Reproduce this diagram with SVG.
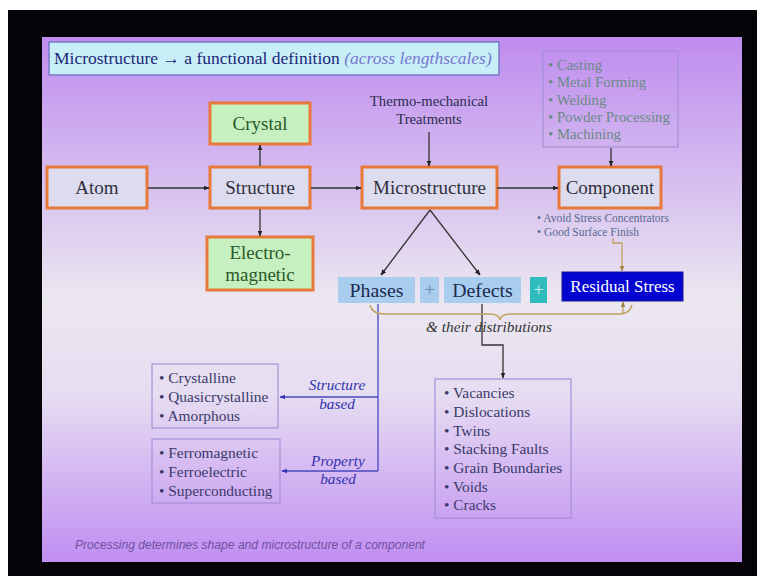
<svg xmlns="http://www.w3.org/2000/svg" width="764" height="579" viewBox="0 0 764 579">
<defs>
<linearGradient id="bg" x1="0" y1="0" x2="0" y2="1">
<stop offset="0" stop-color="#bf8cef"/>
<stop offset="0.3" stop-color="#d8c3ef"/>
<stop offset="0.5" stop-color="#ebe7f0"/>
<stop offset="0.68" stop-color="#e6ddf1"/>
<stop offset="1" stop-color="#c08ef2"/>
</linearGradient>
<marker id="ah" viewBox="0 0 10 10" refX="9" refY="5" markerWidth="6" markerHeight="6" orient="auto" markerUnits="userSpaceOnUse"><path d="M0,1 L10,5 L0,9 z" fill="#222"/></marker>
<marker id="ahb" viewBox="0 0 10 10" refX="9" refY="5" markerWidth="6" markerHeight="6" orient="auto" markerUnits="userSpaceOnUse"><path d="M0,1 L10,5 L0,9 z" fill="#3030b0"/></marker>
<marker id="aht" viewBox="0 0 10 10" refX="9" refY="5" markerWidth="6" markerHeight="6" orient="auto" markerUnits="userSpaceOnUse"><path d="M0,1 L10,5 L0,9 z" fill="#a08040"/></marker>
<style>
.node{fill:#dcdcee;stroke:#e8793a;stroke-width:3}
.green{fill:#c6f0c0;stroke:#e8793a;stroke-width:3}
.nt{font-family:"Liberation Serif",serif;font-size:19px;fill:#30303e;text-anchor:middle}
.gt{font-family:"Liberation Serif",serif;font-size:19px;fill:#2a5a2a;text-anchor:middle}
.list{fill:none;stroke:#a590d8;stroke-width:1.2}
.li{font-family:"Liberation Serif",serif;font-size:15.4px;fill:#3a3a6a}
.pl{font-family:"Liberation Serif",serif;font-size:14.8px;fill:#6a8a88}
.c{fill:none;stroke:#333;stroke-width:1.3}
.cb{fill:none;stroke:#4848c0;stroke-width:1.3}
.ct{fill:none;stroke:#c0a060;stroke-width:1.3}
.lab{font-family:"Liberation Serif",serif;font-size:15.3px;font-style:italic;fill:#3030b0;text-anchor:middle}
.pd{fill:#a8cdef}
.pdt{font-family:"Liberation Serif",serif;font-size:19.8px;fill:#202a50;text-anchor:middle}
</style>
</defs>
<rect x="0" y="0" width="764" height="579" fill="#ffffff"/>
<rect x="8" y="10" width="749" height="566" fill="#050308"/>
<rect x="42" y="37" width="700" height="525" fill="url(#bg)"/>

<g id="title">
<rect x="49" y="42" width="450" height="33" fill="#c8eef8" stroke="#7878c8" stroke-width="1.5"/>
<text x="54" y="64" font-family="Liberation Serif,serif" font-size="17.5px" fill="#1c2878">Microstructure → a functional definition <tspan font-style="italic" fill="#7878d0">(across lengthscales)</tspan></text>
</g>

<g id="processes">
<rect x="543" y="51" width="135" height="96" class="list"/>
<text class="pl" x="548" y="70">• Casting</text>
<text class="pl" x="548" y="87">• Metal Forming</text>
<text class="pl" x="548" y="105">• Welding</text>
<text class="pl" x="548" y="122">• Powder Processing</text>
<text class="pl" x="548" y="139">• Machining</text>
</g>

<g id="thermo">
<text x="429" y="106" font-family="Liberation Serif,serif" font-size="14.7px" fill="#2c2c50" text-anchor="middle">Thermo-mechanical</text>
<text x="429" y="124" font-family="Liberation Serif,serif" font-size="14.7px" fill="#2c2c50" text-anchor="middle">Treatments</text>
</g>

<g id="atom"><rect x="47" y="167" width="100" height="41" class="node"/><text class="nt" x="97" y="194">Atom</text></g>
<g id="structure"><rect x="210" y="167" width="100" height="41" class="node"/><text class="nt" x="260" y="194">Structure</text></g>
<g id="crystal"><rect x="210" y="103" width="100" height="41" class="green"/><text class="gt" x="260" y="130">Crystal</text></g>
<g id="electromagnetic"><rect x="207" y="237" width="106" height="53" class="green"/><text class="gt" x="260" y="259">Electro-</text><text class="gt" x="260" y="281">magnetic</text></g>
<g id="microstructure"><rect x="362" y="167" width="135" height="41" class="node"/><text class="nt" x="429.5" y="194">Microstructure</text></g>
<g id="component"><rect x="559" y="167" width="102" height="41" class="node"/><text class="nt" x="610" y="194">Component</text></g>

<g id="component-notes">
<text x="537" y="222" font-family="Liberation Serif,serif" font-size="11.5px" fill="#5a6a90">• Avoid Stress Concentrators</text>
<text x="537" y="236" font-family="Liberation Serif,serif" font-size="11.5px" fill="#5a6a90">• Good Surface Finish</text>
</g>

<g id="phases"><rect x="338" y="277" width="77" height="26" class="pd"/><text class="pdt" x="376.5" y="297">Phases</text></g>
<g id="plus1"><rect x="420" y="277" width="19" height="26" class="pd"/><text x="429.5" y="296" font-family="Liberation Serif,serif" font-size="18px" fill="#6a8ab0" text-anchor="middle">+</text></g>
<g id="defects"><rect x="444" y="277" width="77" height="26" class="pd"/><text class="pdt" x="482.5" y="297">Defects</text></g>
<g id="plus2"><rect x="530" y="277" width="17" height="26" fill="#2ebcbc"/><text x="538.5" y="296" font-family="Liberation Serif,serif" font-size="18px" fill="#c8f0e8" text-anchor="middle">+</text></g>
<g id="residual"><rect x="562" y="272" width="121" height="29" fill="#0505d2" stroke="#1a1a90" stroke-width="1"/><text x="622.5" y="292" font-family="Liberation Serif,serif" font-size="17px" fill="#ffffff" text-anchor="middle">Residual Stress</text></g>

<g id="distributions"><text x="489" y="332" font-family="Liberation Serif,serif" font-size="15.3px" font-style="italic" fill="#333" text-anchor="middle">&amp; their distributions</text></g>

<g id="structure-based-list">
<rect x="152" y="364" width="126" height="64" class="list"/>
<text class="li" x="159" y="383">• Crystalline</text>
<text class="li" x="159" y="402">• Quasicrystalline</text>
<text class="li" x="159" y="421">• Amorphous</text>
</g>
<g id="property-based-list">
<rect x="152" y="439" width="128" height="64" class="list"/>
<text class="li" x="159" y="458">• Ferromagnetic</text>
<text class="li" x="159" y="477">• Ferroelectric</text>
<text class="li" x="159" y="496">• Superconducting</text>
</g>
<g id="defects-list">
<rect x="435" y="379" width="136" height="139" class="list"/>
<text class="li" x="444" y="398">• Vacancies</text>
<text class="li" x="444" y="417">• Dislocations</text>
<text class="li" x="444" y="436">• Twins</text>
<text class="li" x="444" y="454">• Stacking Faults</text>
<text class="li" x="444" y="473">• Grain Boundaries</text>
<text class="li" x="444" y="492">• Voids</text>
<text class="li" x="444" y="510">• Cracks</text>
</g>

<g id="labels">
<text class="lab" x="337" y="390">Structure</text>
<text class="lab" x="337" y="409">based</text>
<text class="lab" x="338" y="466">Property</text>
<text class="lab" x="338" y="484">based</text>
</g>

<g id="connectors">
<path class="c" d="M148,188 H209" marker-end="url(#ah)"/>
<path class="c" d="M311,188 H361" marker-end="url(#ah)"/>
<path class="c" d="M497,188 H558" marker-end="url(#ah)"/>
<path class="c" d="M260,166 V145" marker-end="url(#ah)"/>
<path class="c" d="M260,209 V236" marker-end="url(#ah)"/>
<path class="c" d="M429,132 V166" marker-end="url(#ah)"/>
<path class="c" d="M611,148 V166" marker-end="url(#ah)"/>
<path class="c" d="M430,210 L381,275" marker-end="url(#ah)"/>
<path class="c" d="M430,210 L480,275" marker-end="url(#ah)"/>
<path class="c" d="M482,304 V345 H503 V378" marker-end="url(#ah)"/>
<path class="cb" d="M378,304 V471"/>
<path class="cb" d="M378,397 H280" marker-end="url(#ahb)"/>
<path class="cb" d="M378,471 H282" marker-end="url(#ahb)"/>
<path class="ct" d="M613,238 V243 H622 V271" marker-end="url(#aht)"/>
<path class="ct" d="M623,314 V302" marker-end="url(#aht)"/>
<path class="ct" d="M370,305 Q372,314 385,314 H490 Q499,314 500,320 Q501,314 511,314 H619 Q630,314 632,305"/>
</g>

<text x="75" y="549" font-family="Liberation Sans,Arial,sans-serif" font-size="12.5px" font-style="italic" fill="#7050a0" textLength="350" lengthAdjust="spacingAndGlyphs">Processing determines shape and microstructure of a component</text>
</svg>
